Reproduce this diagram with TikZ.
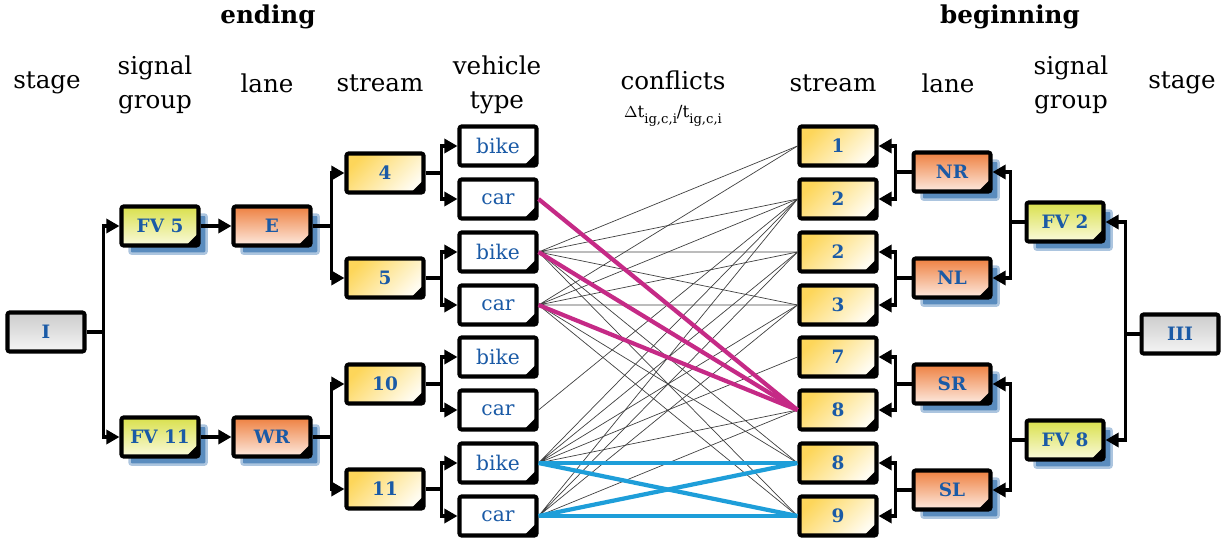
\documentclass[tikz,border=0pt]{standalone}
\usepackage{fontspec}
\setmainfont{DejaVu Serif}
\usetikzlibrary{arrows.meta,shadows}
\definecolor{lblblue}{HTML}{1A5AA6}
\definecolor{shblue}{HTML}{5A8CBE}
\definecolor{lanetop}{HTML}{EE8040}
\definecolor{lanebot}{HTML}{FDEAE0}
\definecolor{sgtop}{HTML}{D9E04C}
\definecolor{sgbot}{HTML}{FAFADC}
\definecolor{strtop}{HTML}{FDD65A}
\definecolor{strbot}{HTML}{FFFCF0}
\definecolor{conflmag}{HTML}{C52A86}
\definecolor{conflblue}{HTML}{1E9ED9}

\tikzset{
  card/.style={draw=black, line width=2.3pt, rounded corners=1.2pt,
    minimum width=1.54cm, minimum height=0.78cm, inner sep=0pt,
    text=lblblue, font=\bfseries\fontsize{10.5}{12}\selectfont,
    path picture={\fill[black] ([xshift=-7pt]path picture bounding box.south east)
      -- (path picture bounding box.south east)
      -- ([yshift=7pt]path picture bounding box.south east) -- cycle;}},
  stagebox/.style={draw=black, line width=2.3pt, rounded corners=1.2pt,
    minimum width=1.54cm, minimum height=0.78cm, inner sep=0pt,
    text=lblblue, font=\bfseries\fontsize{10.5}{12}\selectfont,
    top color=gray!40, bottom color=gray!8},
  blueshadow/.style={copy shadow={shadow xshift=4.6pt, shadow yshift=-4.6pt,
    fill=shblue, draw=shblue!50, line width=1.4pt}},
  sgroup/.style={card, blueshadow, top color=sgtop, bottom color=sgbot},
  lanebox/.style={card, blueshadow, top color=lanetop, bottom color=lanebot},
  streambox/.style={card, top color=strtop, bottom color=strbot, shading angle=45},
  vehbox/.style={card, fill=white, font=\fontsize{11.5}{12}\selectfont},
  link/.style={line width=2.1pt, -{Triangle[length=7.5pt,width=8pt]}},
  head/.style={font=\fontsize{14}{19}\selectfont, align=center},
  conf/.style={line width=0.4pt, black!75},
  confm/.style={line width=2.4pt, conflmag},
  confb/.style={line width=2.4pt, conflblue},
}

\begin{document}
\begin{tikzpicture}[x=0.02cm,y=-0.02cm]
  \useasboundingbox (0,0) rectangle (1223,541);

  % headers
  \node[head,font=\bfseries\fontsize{14}{19}\selectfont] (hEnd) at (268,17) {ending};
  \node[head,font=\bfseries\fontsize{14}{19}\selectfont] (hBeg) at (1010,17) {beginning};
  \node[head] (hStageL) at (47,83) {stage};
  \node[head] (hSigL) at (155,85) {signal\\group};
  \node[head] (hLaneL) at (267,83) {lane};
  \node[head] (hStreamL) at (380,83) {stream};
  \node[head] (hVeh) at (497,85) {vehicle\\type};
  \node[head] (hConf) at (673,80) {conflicts};
  \node[font=\fontsize{9.5}{10}\selectfont] (hForm) at (673,116)
    {$\Delta$t\raisebox{-0.7ex}{\fontsize{7.5}{8}\selectfont ig,c,i}/t\raisebox{-0.7ex}{\fontsize{7.5}{8}\selectfont ig,c,i}};
  \node[head] (hStreamR) at (833,83) {stream};
  \node[head] (hLaneR) at (948,83) {lane};
  \node[head] (hSigR) at (1071,85) {signal\\group};
  \node[head] (hStageR) at (1182,83) {stage};

  % ending side
  \node[stagebox] (sI) at (46,332) {I};
  \node[sgroup] (fv5) at (160,226) {FV 5};
  \node[sgroup] (fv11) at (160,437) {FV 11};
  \node[lanebox] (lE) at (272,226) {E};
  \node[lanebox] (lWR) at (272,437) {WR};
  \node[streambox] (s4) at (385,173) {4};
  \node[streambox] (s5) at (385,278) {5};
  \node[streambox] (s10) at (385,384) {10};
  \node[streambox] (s11) at (385,489) {11};
  \node[vehbox] (v4b) at (498,146) {bike};
  \node[vehbox] (v4c) at (498,199) {car};
  \node[vehbox] (v5b) at (498,252) {bike};
  \node[vehbox] (v5c) at (498,305) {car};
  \node[vehbox] (v10b) at (498,357) {bike};
  \node[vehbox] (v10c) at (498,410) {car};
  \node[vehbox] (v11b) at (498,463) {bike};
  \node[vehbox] (v11c) at (498,516) {car};

  % beginning side
  \node[streambox] (r1) at (838,146) {1};
  \node[streambox] (r2a) at (838,199) {2};
  \node[streambox] (r2b) at (838,252) {2};
  \node[streambox] (r3) at (838,305) {3};
  \node[streambox] (r7) at (838,357) {7};
  \node[streambox] (r8a) at (838,410) {8};
  \node[streambox] (r8b) at (838,463) {8};
  \node[streambox] (r9) at (838,516) {9};
  \node[lanebox] (lNR) at (952,172) {NR};
  \node[lanebox] (lNL) at (952,278) {NL};
  \node[lanebox] (lSR) at (952,384) {SR};
  \node[lanebox] (lSL) at (952,490) {SL};
  \node[sgroup] (fv2) at (1065,222) {FV 2};
  \node[sgroup] (fv8) at (1065,440) {FV 8};
  \node[stagebox] (sIII) at (1180,334) {III};

  % tree links, ending
  \draw[link] (sI.east) -- ++(17,0) coordinate (jI) |- (fv5.west);
  \draw[link] (jI) |- (fv11.west);
  \draw[link] (fv5.east) -- (lE.west);
  \draw[link] (fv11.east) -- (lWR.west);
  \draw[link] (lE.east) -- ++(19,0) coordinate (jE) |- (s4.west);
  \draw[link] (jE) |- (s5.west);
  \draw[link] (lWR.east) -- ++(19,0) coordinate (jWR) |- (s10.west);
  \draw[link] (jWR) |- (s11.west);
  \draw[link] (s4.east) -- ++(16,0) coordinate (j4) |- (v4b.west);
  \draw[link] (j4) |- (v4c.west);
  \draw[link] (s5.east) -- ++(16,0) coordinate (j5) |- (v5b.west);
  \draw[link] (j5) |- (v5c.west);
  \draw[link] (s10.east) -- ++(16,0) coordinate (j10) |- (v10b.west);
  \draw[link] (j10) |- (v10c.west);
  \draw[link] (s11.east) -- ++(16,0) coordinate (j11) |- (v11b.west);
  \draw[link] (j11) |- (v11c.west);

  % tree links, beginning
  \draw[link] (sIII.west) -- ++(-14,0) coordinate (jIII) |- (fv2.east);
  \draw[link] (jIII) |- (fv8.east);
  \draw[link] (fv2.west) -- ++(-14,0) coordinate (j2) |- (lNR.east);
  \draw[link] (j2) |- (lNL.east);
  \draw[link] (fv8.west) -- ++(-14,0) coordinate (j8) |- (lSR.east);
  \draw[link] (j8) |- (lSL.east);
  \draw[link] (lNR.west) -- ++(-16,0) coordinate (jNR) |- (r1.east);
  \draw[link] (jNR) |- (r2a.east);
  \draw[link] (lNL.west) -- ++(-16,0) coordinate (jNL) |- (r2b.east);
  \draw[link] (jNL) |- (r3.east);
  \draw[link] (lSR.west) -- ++(-16,0) coordinate (jSR) |- (r7.east);
  \draw[link] (jSR) |- (r8a.east);
  \draw[link] (lSL.west) -- ++(-16,0) coordinate (jSL) |- (r8b.east);
  \draw[link] (jSL) |- (r9.east);

  % conflicts
  \draw[conf] (v5b.east) -- (r1.west) (v5b.east) -- (r2a.west) (v5b.east) -- (r2b.west)
    (v5b.east) -- (r3.west) (v5b.east) -- (r8b.west) (v5b.east) -- (r9.west);
  \draw[conf] (v5c.east) -- (r1.west) (v5c.east) -- (r2a.west) (v5c.east) -- (r2b.west)
    (v5c.east) -- (r3.west) (v5c.east) -- (r8b.west) (v5c.east) -- (r9.west);
  \draw[conf] (v10c.east) -- (r2a.west);
  \draw[conf] (v11b.east) -- (r2a.west) (v11b.east) -- (r2b.west) (v11b.east) -- (r3.west)
    (v11b.east) -- (r7.west) (v11b.east) -- (r8a.west);
  \draw[conf] (v11c.east) -- (r2a.west) (v11c.east) -- (r2b.west) (v11c.east) -- (r3.west)
    (v11c.east) -- (r8a.west);
  \draw[confm] (v4c.east) -- (r8a.west);
  \draw[confm] (v5b.east) -- (r8a.west);
  \draw[confm] (v5c.east) -- (r8a.west);
  \draw[confb] (v11b.east) -- (r8b.west);
  \draw[confb] (v11b.east) -- (r9.west);
  \draw[confb] (v11c.east) -- (r8b.west);
  \draw[confb] (v11c.east) -- (r9.west);
\end{tikzpicture}
\end{document}
